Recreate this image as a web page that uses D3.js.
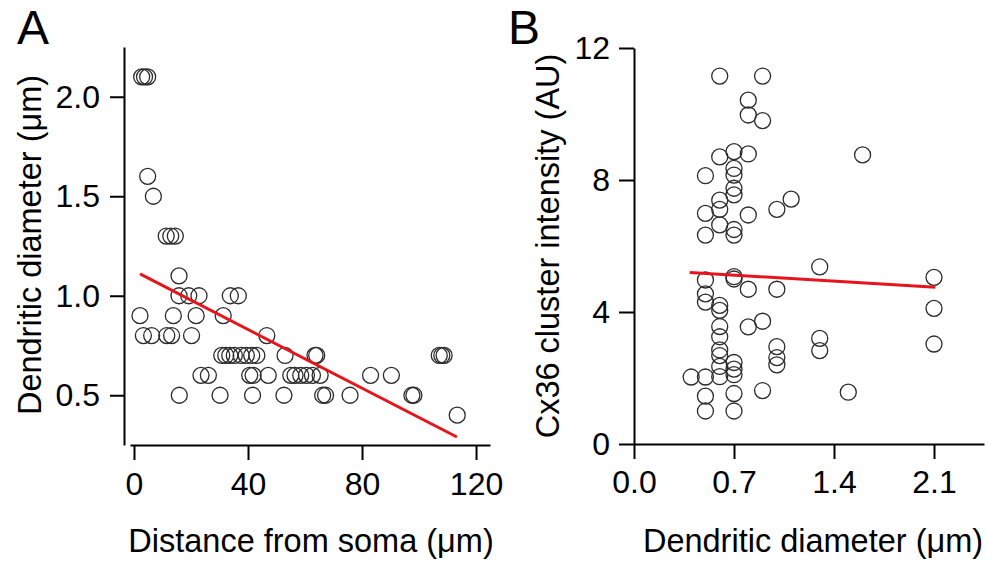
<!DOCTYPE html>
<html>
<head>
<meta charset="utf-8">
<script src="https://cdn.jsdelivr.net/npm/d3@7"></script>
<style>
  body { margin: 0; background: #fff; }
  svg { display: block; }
  text { font-family: "Liberation Sans", Arial, sans-serif; fill: #000; }
</style>
</head>
<body>
<script>
// panel A: distance from soma (um) vs dendritic diameter (um)
const distA = [2.7, 3.7, 4.8, 4.8, 6.8, 11.3, 12.9, 14.5, 15.8,
  15.8, 19.2, 22.8, 33.8, 36.6,
  2.1, 13.8, 21.8, 31.3,
  3.3, 6.2, 11.5, 13.2, 20.2, 46.6,
  30.8, 32.2, 33.6, 35.2, 37.6, 39.4, 41.3, 43.1, 53, 63.5, 64.1, 107.1, 108, 108.8,
  23.5, 26.1, 40.6, 41.8, 47.1, 55, 56.5, 58.5, 60.5, 62.6, 65.3, 83, 90.3,
  15.9, 30.2, 41.6, 52.6, 66.2, 67.2, 75.8, 97.5, 98.2,
  113.4];
const diamA = [2.1, 2.1, 2.1, 1.6, 1.5, 1.3, 1.3, 1.3, 1.1,
  1.0, 1.0, 1.0, 1.0, 1.0,
  0.9, 0.9, 0.9, 0.9,
  0.8, 0.8, 0.8, 0.8, 0.8, 0.8,
  0.7, 0.7, 0.7, 0.7, 0.7, 0.7, 0.7, 0.7, 0.7, 0.7, 0.7, 0.7, 0.7, 0.7,
  0.6, 0.6, 0.6, 0.6, 0.6, 0.6, 0.6, 0.6, 0.6, 0.6, 0.6, 0.6, 0.6,
  0.5, 0.5, 0.5, 0.5, 0.5, 0.5, 0.5, 0.5, 0.5,
  0.4];
const fitAX = [2.1, 113.3];
const fitAY = [1.11, 0.29];
const ticksAX = [0, 40, 80, 120];
const ticksAY = [0.5, 1.0, 1.5, 2.0];

// panel B: dendritic diameter (um) vs Cx36 cluster intensity (AU)
const diamB = [0.6, 0.9, 0.8, 0.8, 0.9, 0.6, 0.7, 0.8, 1.6, 0.5, 0.7, 0.7, 0.7, 0.7, 0.6,
  1.1, 1.0, 0.5, 0.6, 0.8, 0.6, 0.5, 0.7, 0.7, 1.3,
  0.5, 0.7, 0.7, 2.1, 0.8, 1.0, 0.5, 0.5, 0.6, 0.6, 2.1, 0.9, 0.8, 0.6, 0.6, 1.3, 1.3, 2.1,
  1.0, 1.0, 1.0, 0.6, 0.6, 0.6, 0.6, 0.7, 0.7, 0.7, 0.5, 0.4, 0.9, 1.5, 0.5, 0.7, 0.5, 0.7];
const intB = [11.15, 11.15, 10.42, 9.97, 9.8, 8.7, 8.86, 8.79, 8.76, 8.13, 8.35, 8.15, 7.75, 7.55, 7.39,
  7.42, 7.11, 6.99, 7.11, 6.94, 6.64, 6.33, 6.5, 6.33, 5.37,
  4.97, 5.07, 5.0, 5.05, 4.69, 4.69, 4.55, 4.3, 4.2, 4.05, 4.11, 3.72, 3.55, 3.56, 3.25, 3.2, 2.83, 3.03,
  2.95, 2.62, 2.4, 2.85, 2.68, 2.35, 2.04, 2.47, 2.27, 2.1, 2.03, 2.03, 1.62, 1.57, 1.45, 1.53, 1.0, 1.0];
const fitBX = [0.39, 2.11];
const fitBY = [5.2, 4.75];
const ticksBX = [0.0, 0.7, 1.4, 2.1];
const ticksBY = [0, 4, 8, 12];

const W = 985, H = 563;
const tickFont = 32;
const titleFont = 32.5;
const red = "#e8141c";

const svg = d3.select("body").append("svg")
    .attr("width", W)
    .attr("height", H);

function styleAxis(g) {
    g.selectAll("path, line").attr("stroke", "#000").attr("stroke-width", 2);
    g.selectAll("text").attr("font-size", tickFont).attr("fill", "#000");
    g.attr("font-family", null);
}

function drawPoints(xs, ys, x, y) {
    svg.append("g")
        .selectAll("circle")
        .data(xs)
        .join("circle")
        .attr("cx", d => x(d))
        .attr("cy", (d, i) => y(ys[i]))
        .attr("r", 8)
        .attr("fill", "none")
        .attr("stroke", "#2b2b2b")
        .attr("stroke-width", 1.3);
}

function drawFit(fx, fy, x, y) {
    svg.append("path")
        .datum(fx.map((d, i) => [d, fy[i]]))
        .attr("d", d3.line().x(d => x(d[0])).y(d => y(d[1])))
        .attr("stroke", red)
        .attr("stroke-width", 3)
        .attr("fill", "none");
}

// ---------- panel A ----------
const xA = d3.scaleLinear().domain([-1.4, 124.9]).range([130, 490]);
const yA = d3.scaleLinear().domain([0.25, 2.25]).range([445, 47]);

svg.append("g")
    .attr("transform", "translate(124,0)")
    .call(d3.axisLeft(yA).tickValues(ticksAY).tickFormat(d3.format(".1f"))
        .tickSize(14).tickSizeOuter(0).tickPadding(10))
    .call(styleAxis);

svg.append("g")
    .attr("transform", "translate(0,445)")
    .call(d3.axisBottom(xA).tickValues(ticksAX).tickFormat(d3.format("d"))
        .tickSize(15).tickSizeOuter(0).tickPadding(12))
    .call(styleAxis);

drawPoints(distA, diamA, xA, yA);
drawFit(fitAX, fitAY, xA, yA);

svg.append("text")
    .attr("x", 311).attr("y", 552)
    .attr("text-anchor", "middle")
    .attr("font-size", titleFont)
    .text("Distance from soma (\u03bcm)");

svg.append("text")
    .attr("transform", "translate(41,245) rotate(-90)")
    .attr("text-anchor", "middle")
    .attr("font-size", titleFont)
    .text("Dendritic diameter (\u03bcm)");

svg.append("text")
    .attr("x", 17).attr("y", 44)
    .attr("font-size", 48)
    .text("A");

// ---------- panel B ----------
const xB = d3.scaleLinear().domain([0, 2.45]).range([634, 984]);
const yB = d3.scaleLinear().domain([0, 12]).range([444, 48]);

svg.append("g")
    .attr("transform", "translate(634,0)")
    .call(d3.axisLeft(yB).tickValues(ticksBY).tickFormat(d3.format("d"))
        .tickSize(15).tickSizeOuter(0).tickPadding(9))
    .call(styleAxis);

svg.append("g")
    .attr("transform", "translate(0,444)")
    .call(d3.axisBottom(xB).tickValues(ticksBX).tickFormat(d3.format(".1f"))
        .tickSize(15).tickSizeOuter(0).tickPadding(11))
    .call(styleAxis);

drawPoints(diamB, intB, xB, yB);
drawFit(fitBX, fitBY, xB, yB);

svg.append("text")
    .attr("x", 813).attr("y", 552)
    .attr("text-anchor", "middle")
    .attr("font-size", titleFont)
    .text("Dendritic diameter (\u03bcm)");

svg.append("text")
    .attr("transform", "translate(559,246) rotate(-90)")
    .attr("text-anchor", "middle")
    .attr("font-size", titleFont)
    .text("Cx36 cluster intensity (AU)");

svg.append("text")
    .attr("x", 508).attr("y", 44)
    .attr("font-size", 48)
    .text("B");
</script>
</body>
</html>
